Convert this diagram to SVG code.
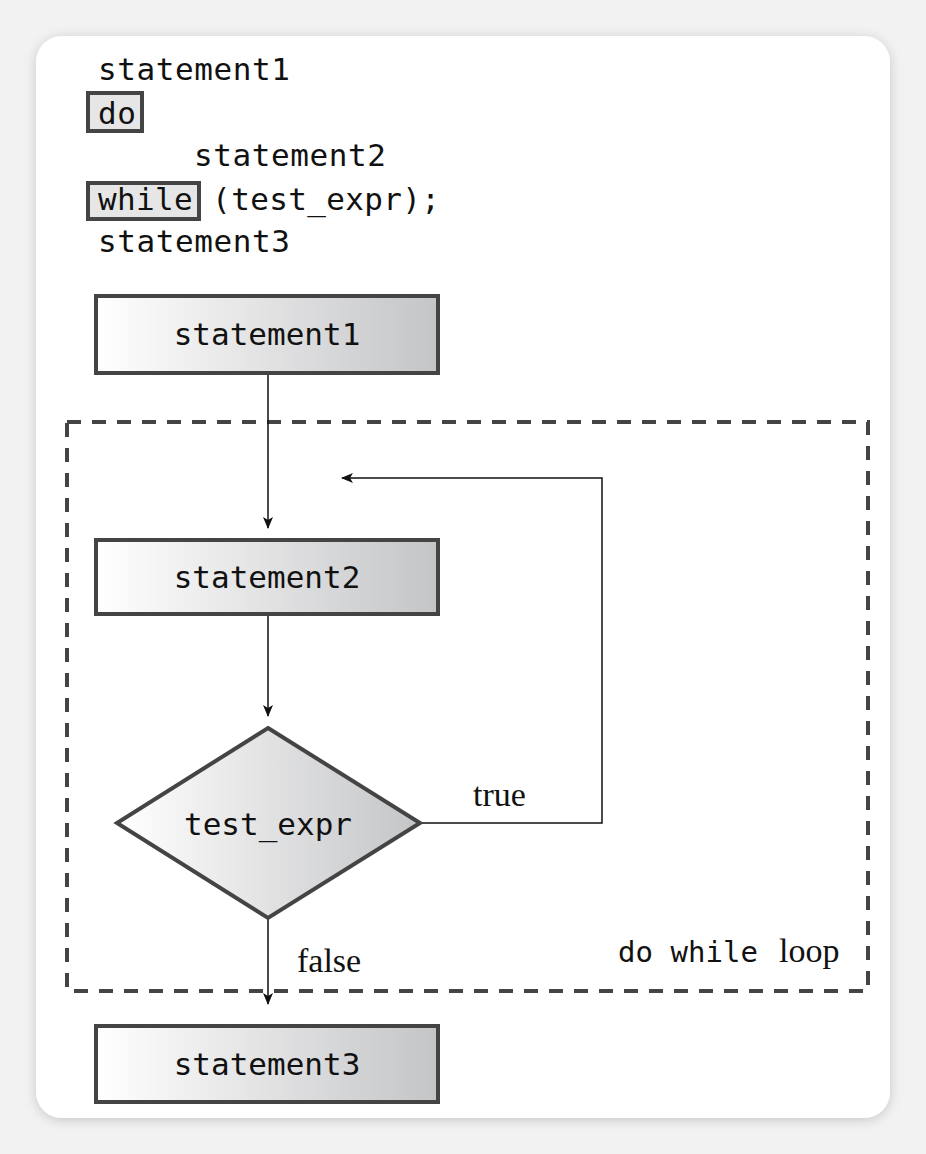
<svg xmlns="http://www.w3.org/2000/svg" width="926" height="1154" viewBox="0 0 926 1154">
<defs>
<linearGradient id="g" x1="0" y1="0" x2="1" y2="0"><stop offset="0" stop-color="#ffffff"/><stop offset="1" stop-color="#c4c5c7"/></linearGradient>
<filter id="sh" x="-10%" y="-10%" width="120%" height="120%"><feDropShadow dx="0" dy="2" stdDeviation="6" flood-color="#000" flood-opacity="0.18"/></filter>
<marker id="ah" markerWidth="12" markerHeight="10" refX="11" refY="5" orient="auto" markerUnits="userSpaceOnUse"><path d="M0,0 L12,5 L0,10 L3,5 Z" fill="#111"/></marker>
<style>
.code{font-family:"DejaVu Sans Mono","Liberation Mono",monospace;font-size:31px;fill:#111}
.box{fill:url(#g);stroke:#444;stroke-width:4}
.kw{fill:#e6e6e6;stroke:#444;stroke-width:4}
.lbl{font-family:"Liberation Serif",serif;font-size:34px;fill:#111}
.con{fill:none;stroke:#111;stroke-width:1.5}
</style>
</defs>
<rect width="926" height="1154" fill="#f2f2f3"/>
<rect x="36" y="36" width="854" height="1082" rx="26" fill="#fff" filter="url(#sh)"/>
<g id="code">
<rect class="kw" x="88" y="93" width="54" height="38"/>
<rect class="kw" x="88" y="183" width="111" height="36"/>
<text class="code" x="98" y="80" textLength="192">statement1</text>
<text class="code" x="98" y="124" textLength="38">do</text>
<text class="code" x="194" y="166" textLength="192">statement2</text>
<text class="code" x="98" y="210" textLength="342" xml:space="preserve">while (test_expr);</text>
<text class="code" x="98" y="252" textLength="192">statement3</text>
</g>
<g id="loop"><rect x="67" y="422" width="801" height="569" fill="none" stroke="#444" stroke-width="4" stroke-dasharray="14,11"/>
<text class="code" x="618" y="962" textLength="140" style="font-size:29px">do while</text><text class="lbl" x="779" y="962">loop</text></g>
<g id="connectors">
<line class="con" x1="268" y1="375" x2="268" y2="528" marker-end="url(#ah)"/>
<line class="con" x1="268" y1="616" x2="268" y2="716" marker-end="url(#ah)"/>
<line class="con" x1="268" y1="918" x2="268" y2="1004" marker-end="url(#ah)"/>
<polyline class="con" points="420,823 602,823 602,478 342,478" marker-end="url(#ah)"/>
<text class="lbl" x="473" y="806">true</text>
<text class="lbl" x="297" y="972">false</text>
</g>
<g id="statement1"><rect class="box" x="96" y="296" width="342" height="77"/><text class="code" x="267" y="345" text-anchor="middle">statement1</text></g>
<g id="statement2"><rect class="box" x="96" y="540" width="342" height="74"/><text class="code" x="267" y="588" text-anchor="middle">statement2</text></g>
<g id="test_expr"><polygon class="box" points="268,728 420,823 268,918 117,823"/><text class="code" x="268" y="835" text-anchor="middle">test_expr</text></g>
<g id="statement3"><rect class="box" x="96" y="1026" width="342" height="76"/><text class="code" x="267" y="1075" text-anchor="middle">statement3</text></g>
</svg>
